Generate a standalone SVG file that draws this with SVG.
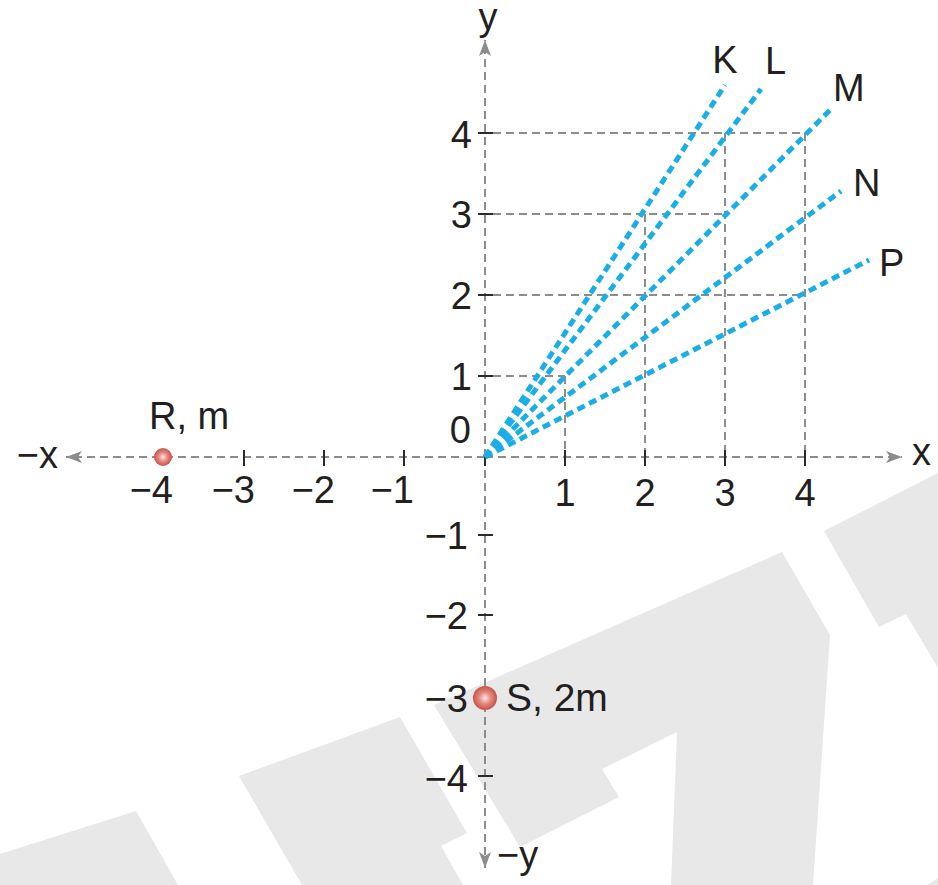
<svg xmlns="http://www.w3.org/2000/svg" width="938" height="885" viewBox="0 0 938 885">
<style>
.wm{fill:#e8e8e8;stroke:none}
.ax{stroke:#8c8c8c;stroke-width:2;stroke-dasharray:8 5;fill:none}
.grid{stroke:#8c8c8c;stroke-width:2;stroke-dasharray:8 5;fill:none}
.tick{stroke:#2a2a2a;stroke-width:2}
.ray{stroke:#1aaee6;stroke-width:5;stroke-dasharray:8 5;fill:none}
.t{font-family:"Liberation Sans",Arial,sans-serif;font-size:38px;fill:#231f20}
.lab{font-family:"Liberation Sans",Arial,sans-serif;font-size:38px;fill:#231f20}
</style>
<defs>
<marker id="ah" viewBox="0 0 16 12" refX="16" refY="6" markerWidth="16" markerHeight="12" markerUnits="userSpaceOnUse" orient="auto">
<path d="M0,0 L16,6 L0,12 L4,6 Z" fill="#8c8c8c"/>
</marker>
<radialGradient id="ball" cx="0.5" cy="0.5" r="0.55">
<stop offset="0" stop-color="#fbe6e0"/>
<stop offset="0.45" stop-color="#e38a80"/>
<stop offset="1" stop-color="#c4463f"/>
</radialGradient>
</defs>
<rect width="938" height="885" fill="#ffffff"/>
<g id="watermark">
<polygon class="wm" points="434,705 782,552 830,635 813,885 671,885 677,732 602,769 619,797 520,847"/>
<polygon class="wm" points="239,776 400,717 467,833 441,846 463,885 302,885"/>
<polygon class="wm" points="0,854 136,811 178,885 0,885"/>
<polygon class="wm" points="824,531 938,473 938,668 906,614 879,627"/>
<polygon class="wm" points="927,885 938,878 938,885"/>
</g>
<g id="grid">
<line class="grid" x1="493" y1="133" x2="805" y2="133"/>
<line class="grid" x1="493" y1="214" x2="725" y2="214"/>
<line class="grid" x1="493" y1="295" x2="805" y2="295"/>
<line class="grid" x1="493" y1="376" x2="565" y2="376"/>
<line class="grid" x1="565" y1="376" x2="565" y2="450"/>
<line class="grid" x1="645" y1="214" x2="645" y2="450"/>
<line class="grid" x1="725" y1="133" x2="725" y2="450"/>
<line class="grid" x1="805" y1="133" x2="805" y2="450"/>
</g>
<g id="axes">
<line class="ax" x1="485" y1="457" x2="902" y2="457" marker-end="url(#ah)"/>
<line class="ax" x1="485" y1="457" x2="66" y2="457" marker-end="url(#ah)"/>
<line class="ax" x1="485" y1="457" x2="485" y2="40" marker-end="url(#ah)"/>
<line class="ax" x1="485" y1="457" x2="485" y2="868" marker-end="url(#ah)"/>
</g>
<g id="ticks">
<line class="tick" x1="478" y1="133" x2="493" y2="133"/>
<line class="tick" x1="478" y1="214" x2="493" y2="214"/>
<line class="tick" x1="478" y1="295" x2="493" y2="295"/>
<line class="tick" x1="478" y1="376" x2="493" y2="376"/>
<line class="tick" x1="478" y1="535" x2="493" y2="535"/>
<line class="tick" x1="478" y1="615" x2="493" y2="615"/>
<line class="tick" x1="478" y1="776" x2="493" y2="776"/>
<line class="tick" x1="565" y1="450" x2="565" y2="466"/>
<line class="tick" x1="645" y1="450" x2="645" y2="466"/>
<line class="tick" x1="725" y1="450" x2="725" y2="466"/>
<line class="tick" x1="805" y1="450" x2="805" y2="466"/>
<line class="tick" x1="485" y1="455" x2="485" y2="466"/>
<line class="tick" x1="244" y1="450" x2="244" y2="466"/>
<line class="tick" x1="324" y1="450" x2="324" y2="466"/>
<line class="tick" x1="404" y1="450" x2="404" y2="466"/>
</g>
<g id="connectors">
<line id="ray-K" class="ray" x1="485" y1="457" x2="725" y2="85"/>
<line id="ray-L" class="ray" x1="485" y1="457" x2="761" y2="89"/>
<line id="ray-M" class="ray" x1="485" y1="457" x2="832" y2="108"/>
<line id="ray-N" class="ray" x1="485" y1="457" x2="841" y2="191"/>
<line id="ray-P" class="ray" x1="485" y1="457" x2="869" y2="260"/>
</g>
<g id="axis-labels">
<text class="t" x="472" y="148" text-anchor="end">4</text>
<text class="t" x="472" y="228" text-anchor="end">3</text>
<text class="t" x="472" y="309" text-anchor="end">2</text>
<text class="t" x="472" y="390" text-anchor="end">1</text>
<text class="t" x="471" y="443" text-anchor="end">0</text>
<text class="t" x="468" y="549" text-anchor="end">−1</text>
<text class="t" x="468" y="629" text-anchor="end">−2</text>
<text class="t" x="468" y="712" text-anchor="end">−3</text>
<text class="t" x="468" y="792" text-anchor="end">−4</text>
<text class="t" x="565" y="506" text-anchor="middle">1</text>
<text class="t" x="645" y="506" text-anchor="middle">2</text>
<text class="t" x="725" y="506" text-anchor="middle">3</text>
<text class="t" x="805" y="506" text-anchor="middle">4</text>
<text class="t" x="173" y="503" text-anchor="end">−4</text>
<text class="t" x="255" y="503" text-anchor="end">−3</text>
<text class="t" x="335" y="503" text-anchor="end">−2</text>
<text class="t" x="414" y="503" text-anchor="end">−1</text>
<text class="lab" x="488" y="30" text-anchor="middle">y</text>
<text class="lab" x="497" y="868">−y</text>
<text class="lab" x="912" y="465">x</text>
<text class="lab" x="58" y="468" text-anchor="end">−x</text>
</g>
<g id="ray-labels">
<text class="lab" x="725" y="73" text-anchor="middle">K</text>
<text class="lab" x="765" y="74">L</text>
<text class="lab" x="833" y="101">M</text>
<text class="lab" x="853" y="196">N</text>
<text class="lab" x="879" y="276">P</text>
</g>
<g id="node-R">
<circle cx="163" cy="457" r="9" fill="url(#ball)"/>
<text class="t" x="149" y="429">R, m</text>
</g>
<g id="node-S">
<circle cx="485" cy="698" r="12" fill="url(#ball)"/>
<text class="t" x="506" y="711" style="font-size:39px">S, 2m</text>
</g>
</svg>
